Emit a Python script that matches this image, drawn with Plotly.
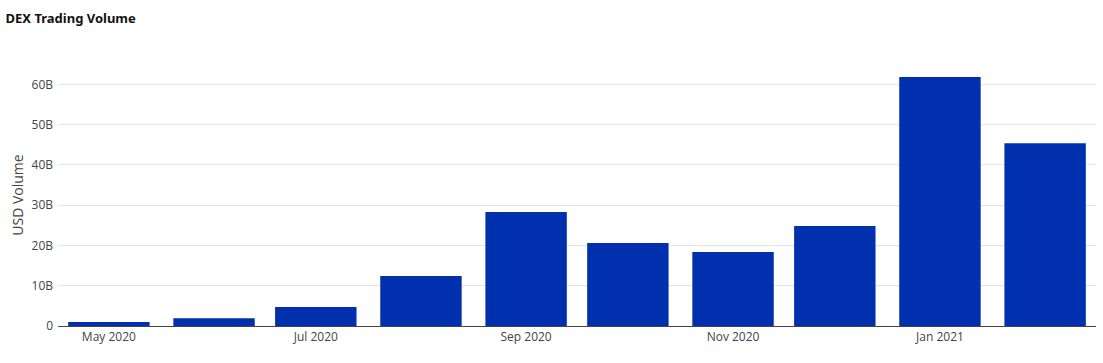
import plotly.graph_objects as go

months = ["2020-05-01", "2020-06-01", "2020-07-01", "2020-08-01", "2020-09-01",
          "2020-10-01", "2020-11-01", "2020-12-01", "2021-01-01", "2021-02-01"]
volume_usd = [1.0e9, 1.9e9, 4.7e9, 12.4e9, 28.3e9, 20.6e9, 18.4e9, 24.8e9, 61.8e9, 45.4e9]

fig = go.Figure(go.Bar(x=months, y=volume_usd, marker_color="#0030ae", marker_line_width=0))

fig.update_layout(
    width=1103, height=363,
    margin=dict(l=58, r=7, t=64, b=37),
    paper_bgcolor="white", plot_bgcolor="white",
    font=dict(family="Open Sans", size=12, color="#444"),
    title=dict(text="<b>DEX Trading Volume</b>", x=0.005, xanchor="left", y=0.95, yanchor="middle",
               font=dict(family="Noto Sans", size=13, color="#111")),
    bargap=0.2,
    showlegend=False,
)
fig.update_xaxes(type="date", dtick="M2", tickformat="%b %Y", showgrid=False,
                 showline=True, linecolor="#444", linewidth=1, ticks="")
fig.update_yaxes(title=dict(text="USD Volume", font=dict(size=14), standoff=4), showgrid=True,
                 gridcolor="#e6e6e6", zeroline=False, ticklabelstandoff=4,
                 tickvals=[0, 1e10, 2e10, 3e10, 4e10, 5e10, 6e10],
                 ticktext=["0", "10B", "20B", "30B", "40B", "50B", "60B"], ticks="")

html = fig.to_html(include_plotlyjs=True, full_html=True, config={"displayModeBar": False})
html = html.replace("<head>", "<head><style>html,body{margin:0;padding:0;}</style>", 1)
with open("out.html", "w", encoding="utf-8") as f:
    f.write(html)
